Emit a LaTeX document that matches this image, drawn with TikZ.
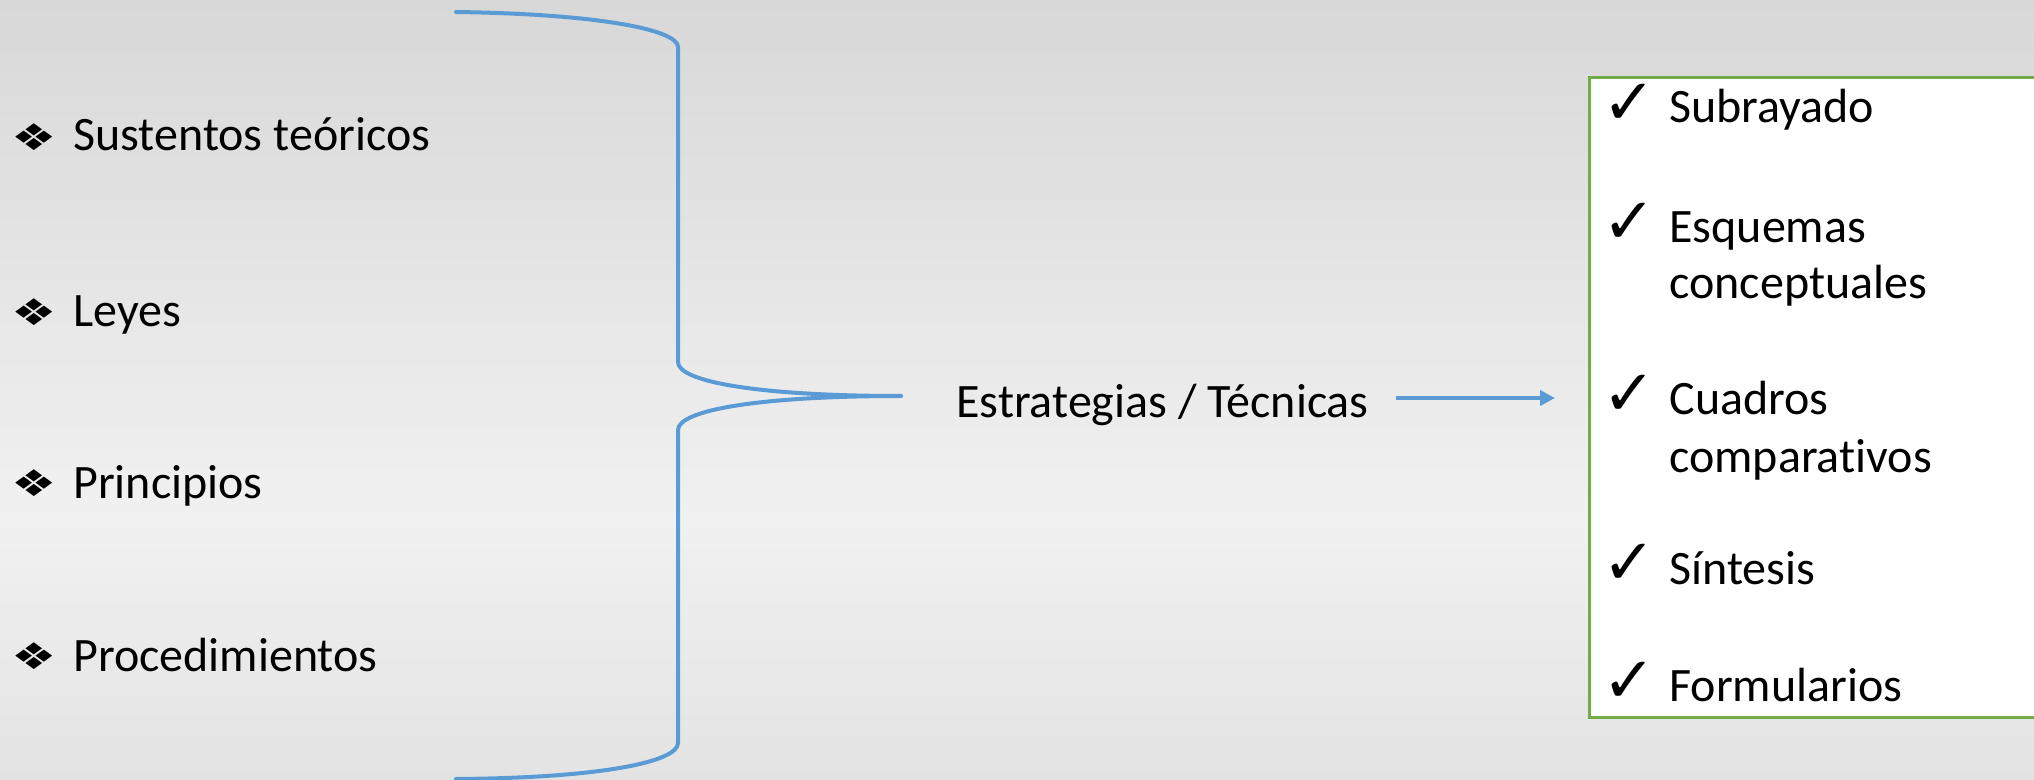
\documentclass[tikz,border=0pt]{standalone}
\usepackage{fontspec}
\setmainfont{Carlito}[Ligatures=NoCommon]
\newfontfamily\symfont{DejaVu Sans}
\usetikzlibrary{arrows.meta}
\definecolor{braceblue}{HTML}{5B9BD5}
\definecolor{boxgreen}{HTML}{70AD47}
\definecolor{bgtop}{HTML}{D8D8D8}
\definecolor{bgmid}{HTML}{F1F1F1}
\definecolor{bgbot}{HTML}{E3E3E3}
\begin{document}
\begin{tikzpicture}[x=0.5pt,y=-0.5pt,
  txt/.style={anchor=base west, inner sep=0pt, font=\fontsize{24}{28}\selectfont},
  bul/.style={anchor=center, inner sep=0pt, font=\symfont\fontsize{23}{26}\selectfont},
  chk/.style={anchor=center, inner sep=0pt, font=\symfont\fontsize{32}{36}\selectfont},
  bracepath/.style={draw=braceblue, line width=2pt, line cap=round},
  conn/.style={draw=braceblue, line width=2pt, -{Triangle[length=7.5pt,width=7.5pt]}}]
\useasboundingbox (0,0) rectangle (2034,780);
\shade[top color=bgtop, bottom color=bgmid] (0,0) rectangle (2034,520);
\shade[top color=bgmid, bottom color=bgbot] (0,519) rectangle (2034,780);

% left list
\node[bul] (b1) at (34,137) {\scalebox{1.1}[0.8]{❖}};
\node[txt] (l1) at (73,151) {Sustentos teóricos};
\node[bul] (b2) at (34,312) {\scalebox{1.1}[0.8]{❖}};
\node[txt] (l2) at (73,327) {Leyes};
\node[bul] (b3) at (34,483) {\scalebox{1.1}[0.8]{❖}};
\node[txt] (l3) at (73,498) {Principios};
\node[bul] (b4) at (34,656) {\scalebox{1.1}[0.8]{❖}};
\node[txt] (l4) at (73,671) {Procedimientos};

% brace
\coordinate (tip) at (901,396);
\draw[bracepath] (456,12) .. controls (600,14) and (678,30) .. (678,47)
  -- (678,362) .. controls (678,382) and (760,396) .. (tip);
\draw[bracepath] (tip) .. controls (760,396) and (678,410) .. (678,430)
  -- (678,743) .. controls (678,762) and (600,778) .. (456,779);

% middle text
\node[txt] (est) at (956,417.5) {Estrategias / Técnicas};

% right box
\node[draw=boxgreen, fill=white, line width=1.5pt, inner sep=0pt, minimum width=460*0.5pt, minimum height=640*0.5pt, anchor=north west] (box) at (1588,76) {};

\node[chk] (c1) at (1629,104) {✓};
\node[txt] (r1) at (1669,123) {Subrayado};
\node[chk] (c2) at (1629,223) {✓};
\node[txt] (r2) at (1669,243) {Esquemas};
\node[txt] (r2b) at (1669,299) {conceptuales};
\node[chk] (c3) at (1629,395) {✓};
\node[txt] (r3) at (1669,415) {Cuadros};
\node[txt] (r3b) at (1669,473) {comparativos};
\node[chk] (c4) at (1629,564) {✓};
\node[txt] (r4) at (1669,584) {Síntesis};
\node[chk] (c5) at (1629,682) {✓};
\node[txt] (r5) at (1669,701) {Formularios};

% arrow
\draw[conn] ([xshift=13.5pt]est.east |- 0,398) -- ([xshift=-16.5pt]box.west |- 0,398);
\end{tikzpicture}
\end{document}
